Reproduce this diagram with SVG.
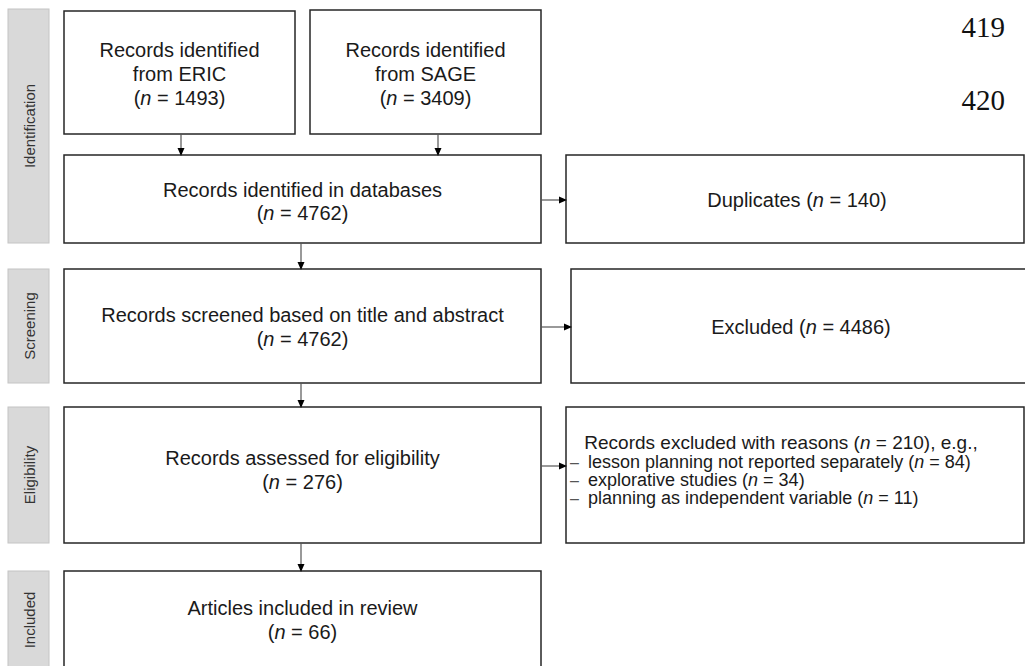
<svg xmlns="http://www.w3.org/2000/svg" width="1025" height="666" viewBox="0 0 1025 666">
<defs>
<marker id="ah" markerWidth="8" markerHeight="8" refX="7" refY="4" orient="auto" markerUnits="userSpaceOnUse">
<path d="M0,0.5 L8,4 L0,7.5 Z" fill="#000"/>
</marker>
<style>
.box{fill:#fff;stroke:#262626;stroke-width:1.5}
.lab{fill:#d9d9d9;stroke:#c4c4c4;stroke-width:1}
.t{font-family:"Liberation Sans",Arial,sans-serif;font-size:20px;fill:#1a1a1a;text-anchor:middle}
.h{font-family:"Liberation Sans",Arial,sans-serif;font-size:19px;fill:#1a1a1a;text-anchor:middle}
.s{font-family:"Liberation Sans",Arial,sans-serif;font-size:18px;fill:#1a1a1a}
.d{font-family:"Liberation Sans",Arial,sans-serif;font-size:16px;fill:#555}
.l{font-family:"Liberation Sans",Arial,sans-serif;font-size:15px;fill:#333;text-anchor:middle}
.pg{font-family:"Liberation Serif","Times New Roman",serif;font-size:29px;fill:#111;text-anchor:end}
.c{stroke:#555;stroke-width:1.2;fill:none;marker-end:url(#ah)}
</style>
</defs>
<rect width="1025" height="666" fill="#fff"/>
<text class="pg" x="1005" y="37">419</text>
<text class="pg" x="1005" y="110">420</text>

<g id="label-identification">
<rect class="lab" x="8" y="9" width="41" height="234"/>
<text class="l" transform="translate(35,126) rotate(-90)">Identification</text>
</g>
<g id="label-screening">
<rect class="lab" x="8" y="269" width="41" height="114"/>
<text class="l" transform="translate(35,326) rotate(-90)">Screening</text>
</g>
<g id="label-eligibility">
<rect class="lab" x="8" y="407" width="41" height="136"/>
<text class="l" transform="translate(35,475) rotate(-90)">Eligibility</text>
</g>
<g id="label-included">
<rect class="lab" x="8" y="571" width="41" height="110"/>
<text class="l" transform="translate(35,620) rotate(-90)">Included</text>
</g>

<g id="eric">
<rect class="box" x="64" y="11" width="231" height="123"/>
<text class="t" x="179.5" y="57">Records identified</text>
<text class="t" x="179.5" y="81">from ERIC</text>
<text class="t" x="179.5" y="105">(<tspan font-style="italic">n</tspan> = 1493)</text>
</g>
<g id="sage">
<rect class="box" x="310" y="10" width="231" height="124"/>
<text class="t" x="425.5" y="57">Records identified</text>
<text class="t" x="425.5" y="81">from SAGE</text>
<text class="t" x="425.5" y="105">(<tspan font-style="italic">n</tspan> = 3409)</text>
</g>
<g id="databases">
<rect class="box" x="64" y="155" width="477" height="88"/>
<text class="t" x="302.5" y="197">Records identified in databases</text>
<text class="t" x="302.5" y="220">(<tspan font-style="italic">n</tspan> = 4762)</text>
</g>
<g id="duplicates">
<rect class="box" x="566" y="155" width="458" height="88"/>
<text class="t" x="797" y="207">Duplicates (<tspan font-style="italic">n</tspan> = 140)</text>
</g>
<g id="screened">
<rect class="box" x="64" y="269" width="477" height="114"/>
<text class="t" x="302.5" y="322">Records screened based on title and abstract</text>
<text class="t" x="302.5" y="346">(<tspan font-style="italic">n</tspan> = 4762)</text>
</g>
<g id="excluded">
<rect class="box" x="571" y="269" width="470" height="114"/>
<text class="t" x="801" y="334">Excluded (<tspan font-style="italic">n</tspan> = 4486)</text>
</g>
<g id="assessed">
<rect class="box" x="64" y="407" width="477" height="136"/>
<text class="t" x="302.5" y="465">Records assessed for eligibility</text>
<text class="t" x="302.5" y="489">(<tspan font-style="italic">n</tspan> = 276)</text>
</g>
<g id="excluded-reasons">
<rect class="box" x="566" y="407" width="458" height="136"/>
<text class="h" x="781" y="449">Records excluded with reasons (<tspan font-style="italic">n</tspan> = 210), e.g.,</text>
<text class="d" x="570" y="468">–</text>
<text class="s" x="588" y="468">lesson planning not reported separately (<tspan font-style="italic">n</tspan> = 84)</text>
<text class="d" x="570" y="486">–</text>
<text class="s" x="588" y="486">explorative studies (<tspan font-style="italic">n</tspan> = 34)</text>
<text class="d" x="570" y="504">–</text>
<text class="s" x="588" y="504">planning as independent variable (<tspan font-style="italic">n</tspan> = 11)</text>
</g>
<g id="included">
<rect class="box" x="64" y="571" width="477" height="110"/>
<text class="t" x="302.5" y="615">Articles included in review</text>
<text class="t" x="302.5" y="639">(<tspan font-style="italic">n</tspan> = 66)</text>
</g>

<g id="connectors">
<line class="c" x1="181" y1="134" x2="181" y2="155"/>
<line class="c" x1="438" y1="134" x2="438" y2="155"/>
<line class="c" x1="541" y1="200" x2="566" y2="200"/>
<line class="c" x1="301" y1="243" x2="301" y2="269"/>
<line class="c" x1="541" y1="327" x2="571" y2="327"/>
<line class="c" x1="301" y1="383" x2="301" y2="407"/>
<line class="c" x1="541" y1="466" x2="566" y2="466"/>
<line class="c" x1="301" y1="543" x2="301" y2="571"/>
</g>
</svg>
